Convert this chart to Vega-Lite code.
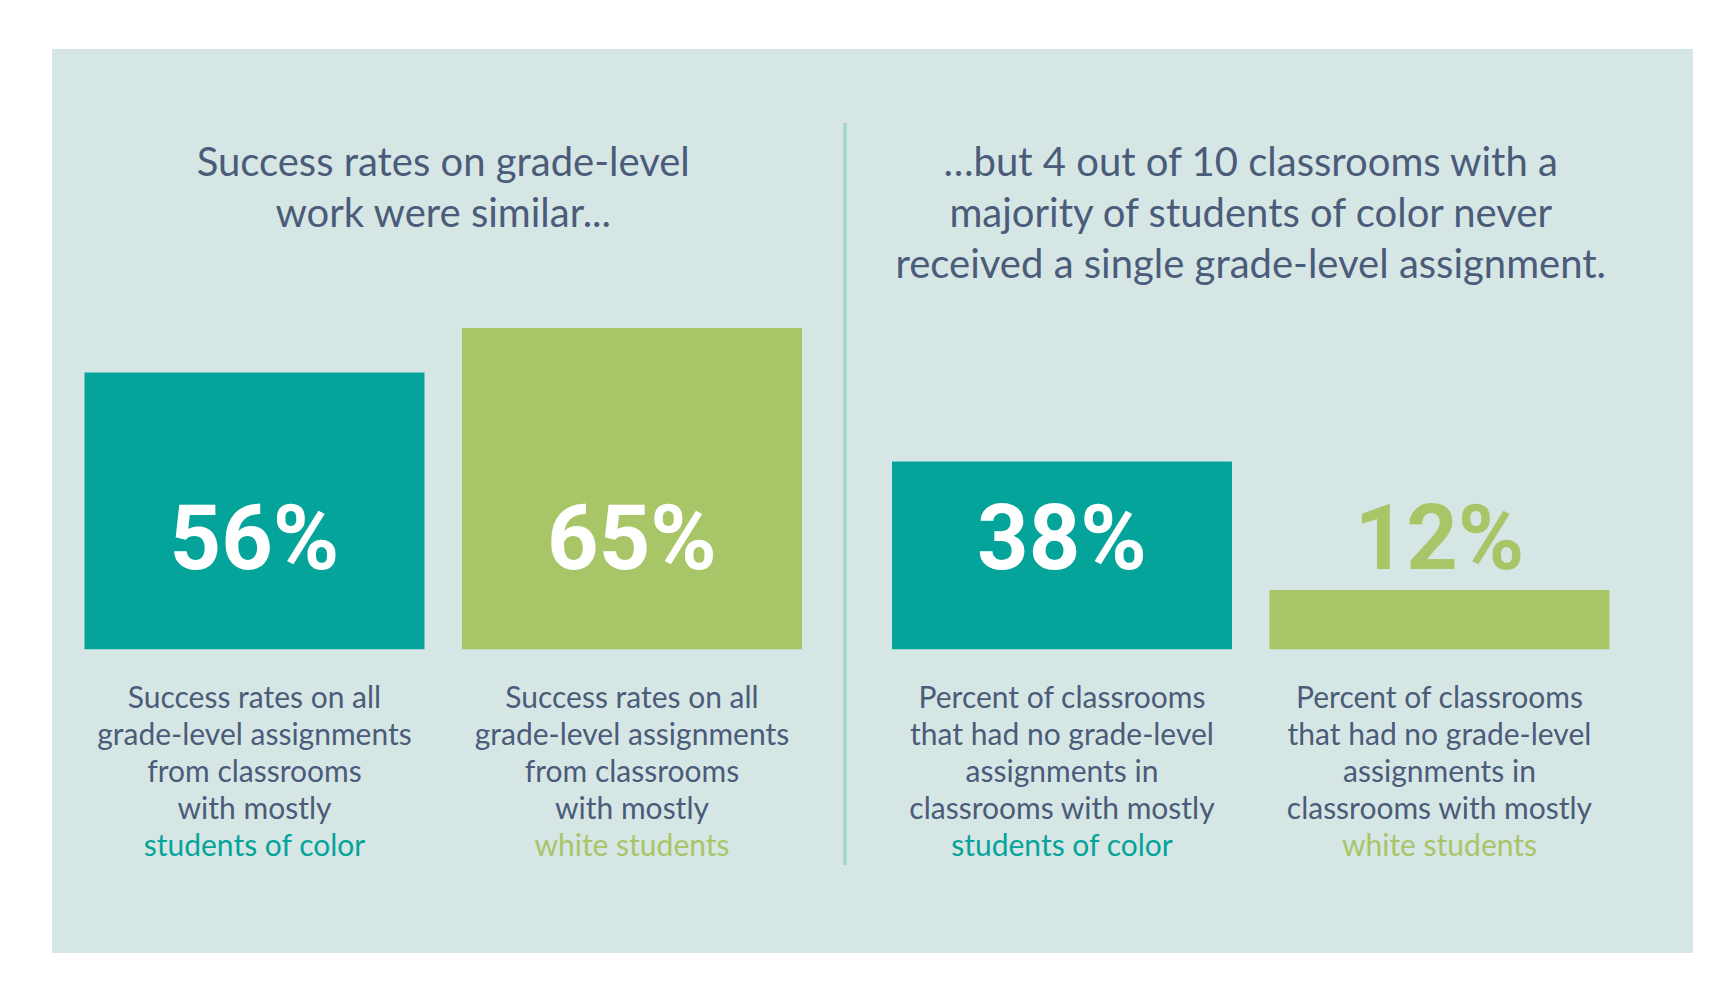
{
  "$schema": "https://vega.github.io/schema/vega-lite/v6.json",
  "autosize": {"type": "fit", "contains": "padding"},
  "width": 1721,
  "height": 988,
  "padding": {"left": 52, "top": 49, "right": 28, "bottom": 35},
  "background": "#ffffff",
  "config": {
    "view": {"stroke": null, "fill": "#d6e6e5"},
    "text": {"font": "Lato"}
  },
  "datasets": {
    "bars": [
      {"group": "left", "bar": "color", "value": 56, "label": "56%", "desc": "Success rates on all\ngrade-level assignments\nfrom classrooms\nwith mostly", "who": "students of color"},
      {"group": "left", "bar": "white", "value": 65, "label": "65%", "desc": "Success rates on all\ngrade-level assignments\nfrom classrooms\nwith mostly", "who": "white students"},
      {"group": "right", "bar": "color", "value": 38, "label": "38%", "desc": "Percent of classrooms\nthat had no grade-level\nassignments in\nclassrooms with mostly", "who": "students of color"},
      {"group": "right", "bar": "white", "value": 12, "label": "12%", "desc": "Percent of classrooms\nthat had no grade-level\nassignments in\nclassrooms with mostly", "who": "white students"}
    ],
    "titles": [
      {"group": "left", "title": "Success rates on grade-level\nwork were similar..."},
      {"group": "right", "title": "…but 4 out of 10 classrooms with a\nmajority of students of color never\nreceived a single grade-level assignment."}
    ]
  },
  "layer": [
    {
      "data": {"name": "bars"},
      "mark": {"type": "bar"},
      "encoding": {
        "x": {"field": "group", "type": "nominal", "axis": null,
              "scale": {"domain": ["left", "right"], "paddingInner": 0.1115, "paddingOuter": 0.07185, "align": 0.28}},
        "xOffset": {"field": "bar", "type": "nominal",
              "scale": {"domain": ["color", "white"], "paddingInner": 0.0993, "paddingOuter": 0}},
        "y": {"field": "value", "type": "quantitative", "axis": null,
              "scale": {"domain": [-61.5, 121.5], "nice": false, "zero": false}},
        "color": {"field": "bar", "type": "nominal", "legend": null,
              "scale": {"domain": ["color", "white"], "range": ["#05a49a", "#a8c567"]}}
      }
    },
    {
      "data": {"name": "bars"},
      "mark": {"type": "text", "fontSize": 90, "fontWeight": "bold", "font": "Roboto", "baseline": "middle", "align": "center"},
      "encoding": {
        "x": {"field": "group", "type": "nominal"},
        "xOffset": {"field": "bar", "type": "nominal"},
        "y": {"datum": 21.8},
        "text": {"field": "label"},
        "color": {"condition": {"test": "datum.value < 20", "value": "#a8c567"}, "value": "#ffffff"}
      }
    },
    {
      "data": {"name": "bars"},
      "mark": {"type": "text", "fontSize": 30, "baseline": "top", "align": "center", "lineBreak": "\n", "lineHeight": 37, "dy": 35, "color": "#4a5c79"},
      "encoding": {
        "x": {"field": "group", "type": "nominal"},
        "xOffset": {"field": "bar", "type": "nominal"},
        "y": {"datum": 0},
        "text": {"field": "desc"}
      }
    },
    {
      "data": {"name": "bars"},
      "mark": {"type": "text", "fontSize": 30, "baseline": "top", "align": "center", "dy": 183},
      "encoding": {
        "x": {"field": "group", "type": "nominal"},
        "xOffset": {"field": "bar", "type": "nominal"},
        "y": {"datum": 0},
        "text": {"field": "who"},
        "color": {"field": "bar", "type": "nominal", "scale": {"domain": ["color", "white"], "range": ["#12a89a", "#a8c56a"]}, "legend": null}
      }
    },
    {
      "data": {"name": "titles"},
      "mark": {"type": "text", "fontSize": 40, "baseline": "top", "align": "center", "lineBreak": "\n", "lineHeight": 51, "color": "#4a5c79"},
      "encoding": {
        "x": {"field": "group", "type": "nominal"},
        "y": {"datum": 102.3},
        "text": {"field": "title"}
      }
    },
    {
      "data": {"values": [{"from": 106.5, "to": -43.7}]},
      "mark": {"type": "rule", "color": "#9fd4cd", "strokeWidth": 3},
      "encoding": {
        "x": {"datum": "left", "bandPosition": 1.06},
        "y": {"field": "from", "type": "quantitative"},
        "y2": {"field": "to"}
      }
    }
  ]
}
